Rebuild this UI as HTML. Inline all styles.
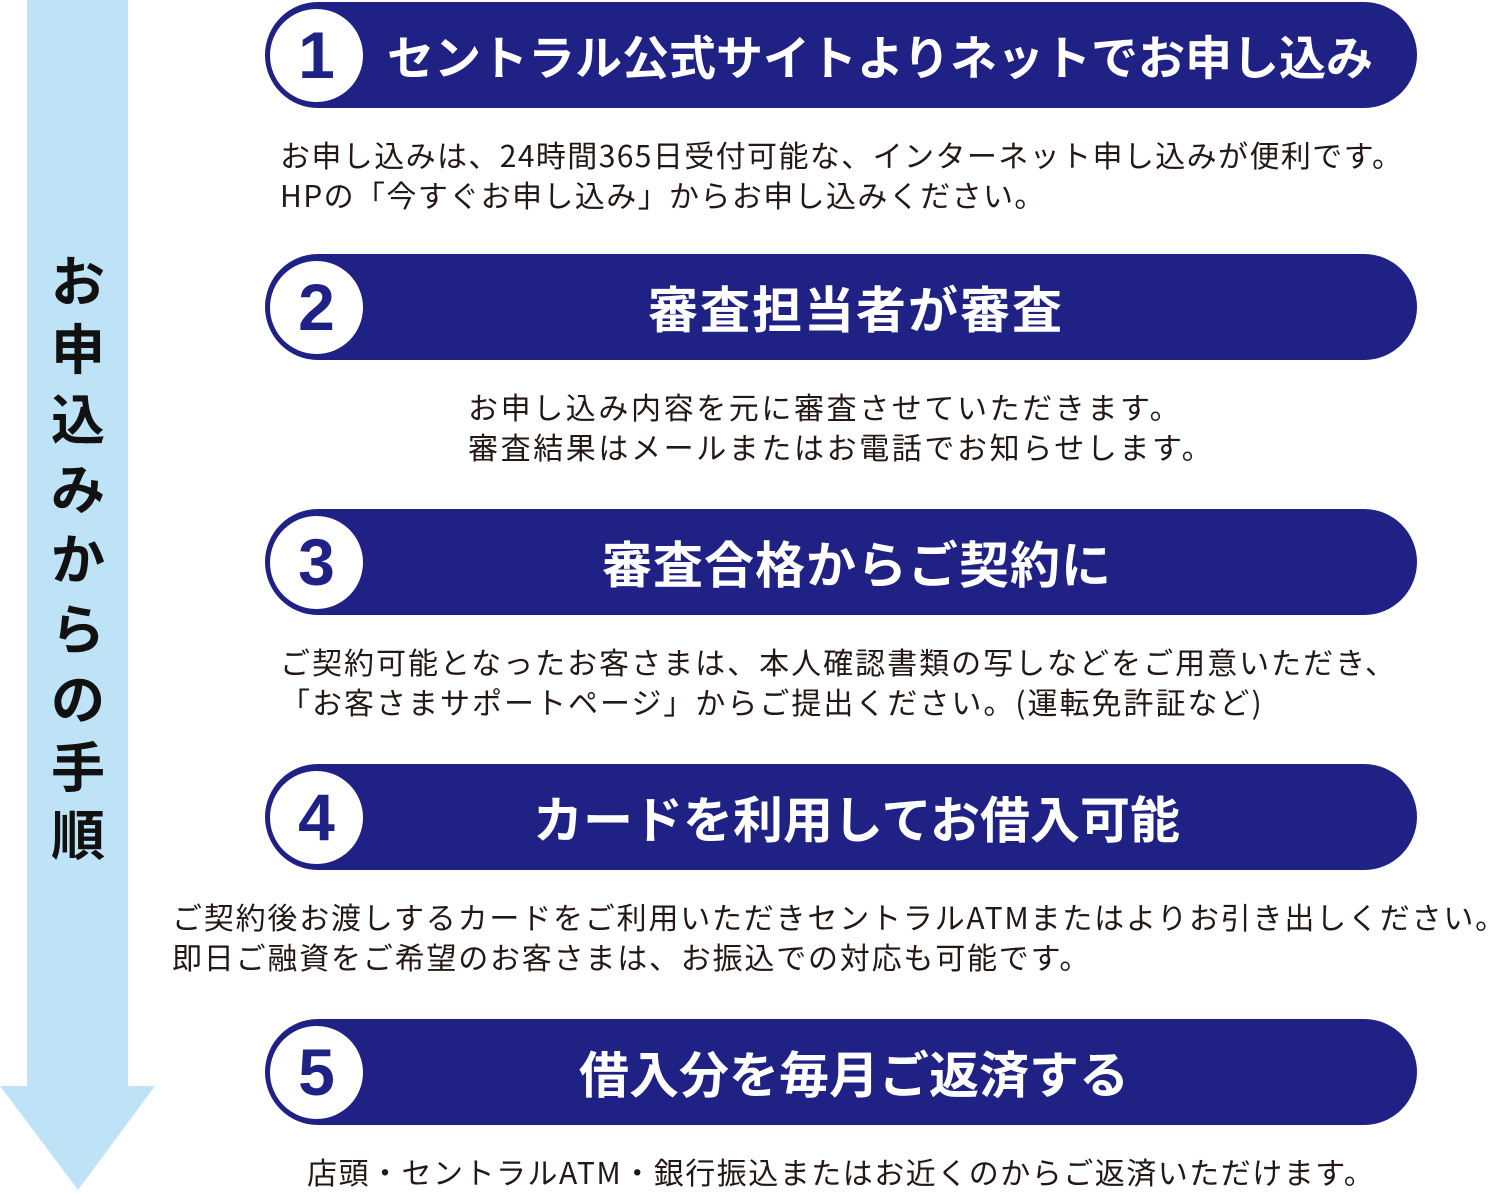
<!DOCTYPE html>
<html><head><meta charset="utf-8"><style>
body{margin:0;width:1500px;height:1196px;background:#fff;position:relative;overflow:hidden;font-family:"Liberation Sans","Noto Sans CJK JP",sans-serif}
.pill{position:absolute;left:265px;width:1152px;height:106px;background:#1f2185;border-radius:53px}
.circ{position:absolute;left:5px;top:7px;width:93px;height:93px;border-radius:50%;background:#fff;color:#1f2185;font-weight:bold;font-size:66px;line-height:93px;text-align:center;font-family:"Liberation Sans",sans-serif}
.t{position:absolute;color:#fff;font-weight:bold;font-size:50px;line-height:106px;top:0;white-space:nowrap;font-family:"Noto Sans CJK JP",sans-serif}
.d{position:absolute;color:#231815;font-size:30px;line-height:40px;white-space:nowrap;font-family:"Noto Sans CJK JP",sans-serif}
.v{position:absolute;left:48px;width:60px;text-align:center;font-size:54px;font-weight:bold;color:#111;font-family:"Noto Sans CJK JP",sans-serif;line-height:60px}
</style></head><body>
<svg style="position:absolute;left:0;top:0" width="160" height="1196"><rect x="27" y="0" width="101" height="1088" fill="#bfe3f6"/><polygon points="0,1086 155,1086 78,1190" fill="#bfe3f6"/></svg>
<div class="v" style="top:248px">お</div>
<div class="v" style="top:316px">申</div>
<div class="v" style="top:386px">込</div>
<div class="v" style="top:456px">み</div>
<div class="v" style="top:526px">か</div>
<div class="v" style="top:596px">ら</div>
<div class="v" style="top:666px">の</div>
<div class="v" style="top:734px">手</div>
<div class="v" style="top:802px">順</div>

<div class="pill" style="top:2px"><div class="circ">1</div><div class="t" style="left:122px;font-size:47px;letter-spacing:0px">セントラル公式サイトよりネットでお申し込み</div></div>
<div class="d" style="left:280px;top:134px;letter-spacing:1.4px">お申し込みは、24時間365日受付可能な、インターネット申し込みが便利です。<br>HPの「今すぐお申し込み」からお申し込みください。</div>

<div class="pill" style="top:254px"><div class="circ">2</div><div class="t" style="left:383px;letter-spacing:2px">審査担当者が審査</div></div>
<div class="d" style="left:468px;top:386px;letter-spacing:2.6px">お申し込み内容を元に審査させていただきます。<br>審査結果はメールまたはお電話でお知らせします。</div>

<div class="pill" style="top:509px"><div class="circ">3</div><div class="t" style="left:337px;letter-spacing:1px">審査合格からご契約に</div></div>
<div class="d" style="left:280px;top:641px;letter-spacing:2px">ご契約可能となったお客さまは、本人確認書類の写しなどをご用意いただき、<br>「お客さまサポートページ」からご提出ください。(運転免許証など)</div>

<div class="pill" style="top:764px"><div class="circ">4</div><div class="t" style="left:268px;letter-spacing:0px">カードを利用してお借入可能</div></div>
<div class="d" style="left:172px;top:896px;letter-spacing:1.8px">ご契約後お渡しするカードをご利用いただきセントラルATMまたはよりお引き出しください。<br>即日ご融資をご希望のお客さまは、お振込での対応も可能です。</div>

<div class="pill" style="top:1019px"><div class="circ">5</div><div class="t" style="left:314px;letter-spacing:0px">借入分を毎月ご返済する</div></div>
<div class="d" style="left:307px;top:1151px;letter-spacing:1.5px">店頭・セントラルATM・銀行振込またはお近くのからご返済いただけます。</div>
</body></html>
